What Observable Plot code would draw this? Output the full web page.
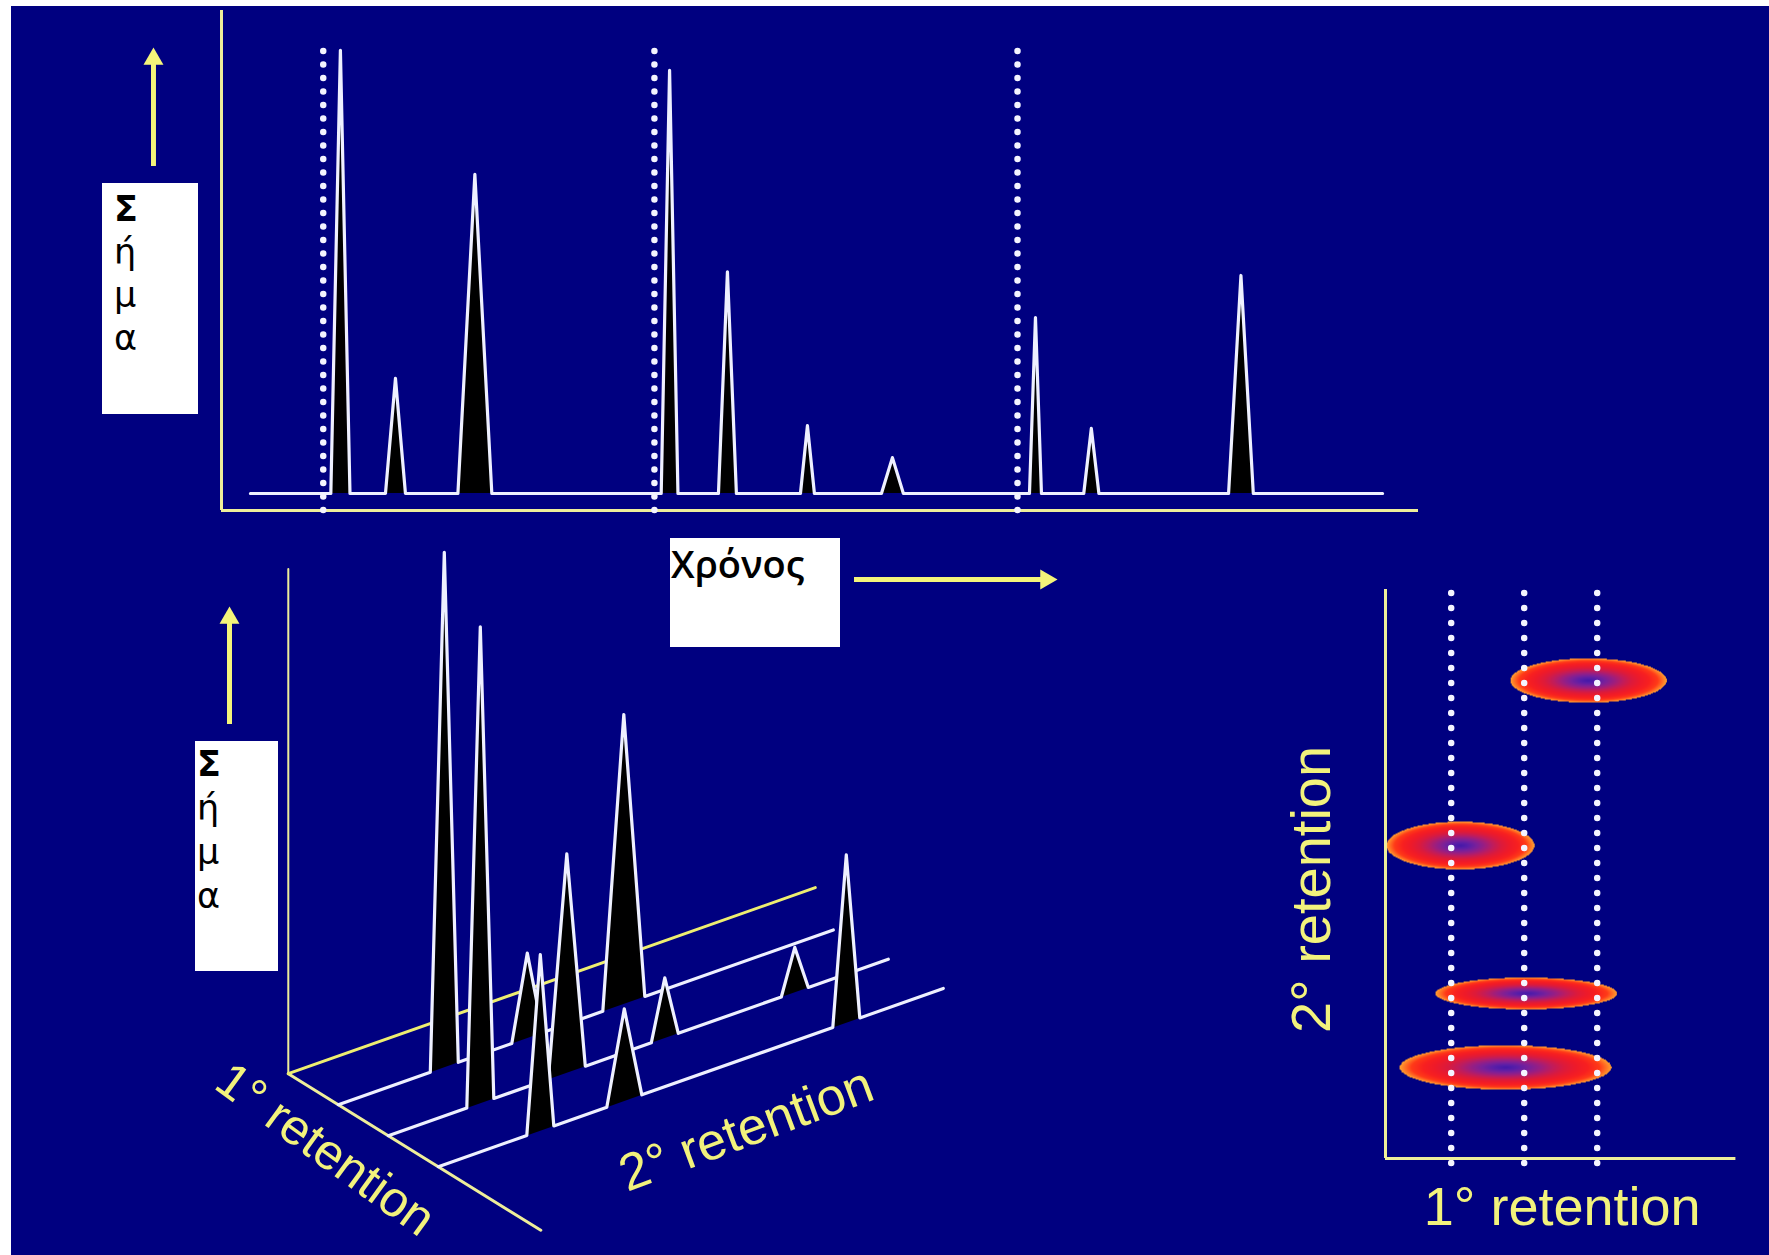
<!DOCTYPE html>
<html><head><meta charset="utf-8">
<script src="https://cdn.jsdelivr.net/npm/d3@7"></script>
<script src="https://cdn.jsdelivr.net/npm/@observablehq/plot@0.6"></script>
<style>
html,body{margin:0;padding:0;background:#fff;overflow:hidden;}
#page{position:relative;width:1769px;height:1255px;overflow:hidden;background:#fff;}
#navy{position:absolute;left:11px;top:6px;right:0;bottom:0;background:#000080;}
.box{position:absolute;background:#fff;color:#000;font-family:"Open Sans","Noto Sans",sans-serif;box-sizing:border-box;}
.box.sig{font-family:"DejaVu Sans","Noto Sans",sans-serif;}
.box span{display:block;}
</style></head>
<body><div id="page"><div id="navy"></div></div>
<script>
// ---------- DATA ----------
// 1D chromatogram (top): time in min, signal in arbitrary units (tallest = 100)
const modulationStart = [5.1, 21.7, 39.9];
const peakTime      = [5.96, 8.72, 12.7, 22.46, 25.36, 29.37, 33.63, 40.8, 43.6, 51.1];
const peakHeight    = [100, 26, 72, 95.5, 50, 15.3, 8.1, 39.7, 14.7, 49.2];
const peakHalfWidth = [0.48, 0.5, 0.85, 0.42, 0.45, 0.35, 0.55, 0.3, 0.38, 0.62];
const runRange = [1.45, 58.2];

// pseudo-3D slices (bottom left): modulation index, 2nd retention (s), signal
const slicePeakModulation = [1, 1, 1, 2, 2, 2, 2, 3, 3, 3];
const slicePeakRet2       = [2.12, 3.78, 5.71, 1.84, 3.57, 5.53, 8.13, 2.04, 3.72, 8.16];
const slicePeakHeight     = [100, 16.5, 56.2, 92.5, 42.5, 11.7, 8.7, 34.2, 17.9, 32.6];
const slicePeakHalfWidth  = [0.28, 0.31, 0.42, 0.27, 0.37, 0.27, 0.27, 0.27, 0.35, 0.27];
const sliceLength = [9.9, 10.0, 10.1];

// 2D contour plot (bottom right): 1st retention, 2nd retention, spreads
const spotRet1 = [5.76, 2.25, 4.06, 3.49];
const spotRet2 = [8.40, 5.50, 2.90, 1.60];
const spotRX   = [2.14, 2.03, 2.49, 2.90];
const spotRY   = [0.39, 0.42, 0.28, 0.39];
const modulationRet1 = [2, 4, 6];

// labels
const signalLabel = "Σήμα";
const timeLabel = "Χρόνος";
const ret1Label = "1° retention";
const ret2Label = "2° retention";

// ---------- STYLE ----------
const axisYellow = "#eeee9a";
const textYellow = "#f2f27c";
const arrowYellow = "#f4f47a";
const traceWhite = "#eef0ff";
const dotWhite = "#f4f4ff";
const page = document.getElementById("page");
function place(el, left, top) {
  el.style.position = "absolute"; el.style.left = left + "px"; el.style.top = top + "px";
  el.style.background = "transparent"; el.style.overflow = "visible"; el.style.maxWidth = "none";
  page.appendChild(el);
}

// ---------- TOP: 1D chromatogram ----------
const trace1D = [{t: runRange[0], s: 0}];
peakTime.forEach((t, i) => {
  trace1D.push({t: t - peakHalfWidth[i], s: 0}, {t, s: peakHeight[i]}, {t: t + peakHalfWidth[i], s: 0});
});
trace1D.push({t: runRange[1], s: 0});
const yMin = -3.84, yMax = 109;

const topPlot = Plot.plot({
  width: 1440, height: 600,
  marginLeft: 221, marginRight: 22, marginTop: 10, marginBottom: 90,
  x: {domain: [0, 60], axis: null},
  y: {domain: [yMin, yMax], axis: null},
  marks: [
    Plot.ruleX([0], {y1: yMin, y2: yMax, stroke: axisYellow, strokeWidth: 3}),
    Plot.ruleY([yMin], {x1: 0, x2: 60, stroke: axisYellow, strokeWidth: 3}),
    Plot.areaY(trace1D, {x: "t", y: "s", fill: "black"}),
    Plot.line(trace1D, {x: "t", y: "s", stroke: traceWhite, strokeWidth: 3.2}),
    Plot.ruleX(modulationStart, {y1: yMin, y2: 101.8, stroke: dotWhite, strokeWidth: 6.5, strokeDasharray: "0 13.5", strokeLinecap: "round"}),
    // signal arrow (up)
    Plot.ruleX([-3.41], {y1: 73.8, y2: 97, stroke: arrowYellow, strokeWidth: 5}),
    Plot.dot([{x: -3.41, y: 98.07}], {x: "x", y: "y", symbol: "triangle", r: 7.4, fill: arrowYellow, stroke: "none"}),
    // time arrow (right)
    Plot.ruleY([-19.41], {x1: 31.73, x2: 41.3, stroke: arrowYellow, strokeWidth: 5}),
    Plot.dot([{x: 41.33, y: -19.41}], {x: "x", y: "y", symbol: "triangle", r: 7.4, rotate: 90, fill: arrowYellow, stroke: "none"})
  ]
});
place(topPlot, 0, 0);

// ---------- BOTTOM LEFT: pseudo-3D ----------
const proj = (r1, r2, s, id) => ({X: r1 * 50 + r2 * 50, Y: -r1 * 31 + r2 * 17.65 + s * 5.15, id});
const marks3D = [
  Plot.line([proj(0, 0, 0), proj(0, 0, 98)], {x: "X", y: "Y", stroke: axisYellow, strokeWidth: 2}),
  Plot.line([proj(0, 0, 0), proj(5.05, 0, 0)], {x: "X", y: "Y", stroke: axisYellow, strokeWidth: 3}),
  Plot.line([proj(0, 0, 0), proj(0, 10.54, 0)], {x: "X", y: "Y", stroke: "#eeee70", strokeWidth: 3})
];
[1, 2, 3].forEach((m, k) => {
  const idx = slicePeakModulation.map((v, i) => v === m ? i : -1).filter(i => i >= 0);
  const tri = idx.flatMap(i => [
    proj(m, slicePeakRet2[i] - slicePeakHalfWidth[i], 0, i),
    proj(m, slicePeakRet2[i], slicePeakHeight[i], i),
    proj(m, slicePeakRet2[i] + slicePeakHalfWidth[i], 0, i)
  ]);
  const trace = [proj(m, 0, 0), ...tri, proj(m, sliceLength[k], 0)];
  marks3D.push(Plot.line(tri, {x: "X", y: "Y", z: "id", fill: "black", stroke: "none"}));
  marks3D.push(Plot.line(trace, {x: "X", y: "Y", stroke: traceWhite, strokeWidth: 3.2}));
});
marks3D.push(
  Plot.text([ret1Label], {x: () => 37, y: () => -76, text: d => d, rotate: 36, fontSize: 50, fill: textYellow, fontFamily: "Liberation Sans, Arial, sans-serif", textAnchor: "middle", lineAnchor: "middle"}),
  Plot.text([ret2Label], {x: () => 458, y: () => -56, text: d => d, rotate: -20.5, fontSize: 52, fill: textYellow, fontFamily: "Liberation Sans, Arial, sans-serif", textAnchor: "middle", lineAnchor: "middle"}),
  Plot.ruleX([-58.8], {y1: 349.2, y2: 454, stroke: arrowYellow, strokeWidth: 5}),
  Plot.dot([{x: -58.8, y: 455.7}], {x: "x", y: "y", symbol: "triangle", r: 7.4, fill: arrowYellow, stroke: "none"})
);
const plot3D = Plot.plot({
  width: 1000, height: 735, margin: 0,
  x: {domain: [-287.8, 712.2], axis: null},
  y: {domain: [-181.8, 553.2], axis: null},
  marks: marks3D
});
place(plot3D, 0, 520);

// ---------- BOTTOM RIGHT: 2D contour ----------
const blobColors = ["#ffa030", "#ff3a18", "#f82020", "#ee1a2a", "#dc1a3c", "#c01c5c", "#9c1e80", "#7a209a", "#5a1ea8", "#4418a8"];
const blobInterp = d3.piecewise(d3.interpolateRgb, blobColors);
const intensity = (x, y) => {
  let best = NaN;
  for (let i = 0; i < spotRet1.length; i++) {
    const dx = (x - spotRet1[i]) / spotRX[i], dy = (y - spotRet2[i]) / spotRY[i];
    const d = Math.sqrt(dx * dx + dy * dy);
    if (d <= 1) { const v = 1 - d; if (!(v <= best)) best = v; }
  }
  return best;
};
const plot2D = Plot.plot({
  width: 529, height: 715,
  marginLeft: 145, marginRight: 33.6, marginTop: 49, marginBottom: 97,
  x: {domain: [0.2, 9.8], axis: null},
  y: {domain: [0, 10], axis: null},
  color: {type: "linear", domain: [0, 1], interpolate: blobInterp},
  marks: [
    Plot.raster({fill: intensity, x1: 0.2, x2: 9.8, y1: 0, y2: 10, pixelSize: 1, imageRendering: "auto"}),
    Plot.ruleX(modulationRet1, {y1: -0.09, y2: 10.19, stroke: dotWhite, strokeWidth: 6.5, strokeDasharray: "0 15", strokeLinecap: "round"}),
    Plot.ruleX([0.2], {y1: 0, y2: 10, stroke: axisYellow, strokeWidth: 3}),
    Plot.ruleY([0], {x1: 0.2, x2: 9.8, stroke: axisYellow, strokeWidth: 3}),
    Plot.text([ret1Label], {x: () => 5.04, y: () => -0.87, text: d => d, fontSize: 54, fill: textYellow, fontFamily: "Liberation Sans, Arial, sans-serif", textAnchor: "middle", lineAnchor: "middle"}),
    Plot.text([ret2Label], {x: () => -1.8, y: () => 4.73, text: d => d, rotate: -90, fontSize: 56, fill: textYellow, fontFamily: "Liberation Sans, Arial, sans-serif", textAnchor: "middle", lineAnchor: "middle"})
  ]
});
place(plot2D, 1240, 540);

// ---------- LABEL BOXES ----------
function signalBox(left, top, w, h, padTop, padLeft, lh) {
  const b = document.createElement("div");
  b.className = "box sig";
  Object.assign(b.style, {left: left + "px", top: top + "px", width: w + "px", height: h + "px",
    paddingTop: padTop + "px", paddingLeft: padLeft + "px", fontSize: "35px", lineHeight: lh + "px"});
  signalLabel.split("").forEach((c, i) => {
    const s = document.createElement("span"); s.textContent = c;
    if (i === 0) s.style.fontWeight = "700";
    b.appendChild(s);
  });
  page.appendChild(b);
}
signalBox(102, 183, 96, 231, 5, 12, 43);
signalBox(195, 741, 83, 230, 1, 2, 44);

const tb = document.createElement("div");
tb.className = "box";
Object.assign(tb.style, {left: "670px", top: "538px", width: "170px", height: "109px", fontSize: "38px", lineHeight: "38px", paddingTop: "6px", paddingLeft: "1px", fontWeight: "600"});
tb.textContent = timeLabel;
page.appendChild(tb);
</script>
</body></html>
